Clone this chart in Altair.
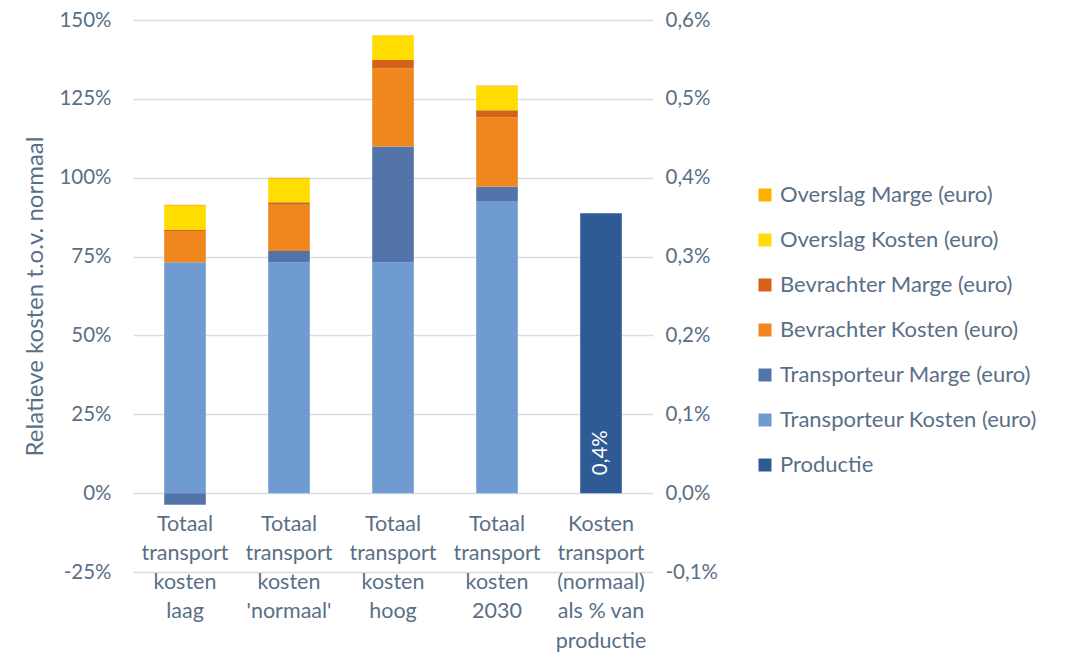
import altair as alt
import pandas as pd

categories = [
    "Totaal transport kosten laag",
    "Totaal transport kosten 'normaal'",
    "Totaal transport kosten hoog",
    "Totaal transport kosten 2030",
    "Kosten transport (normaal) als % van productie",
]
label_lines = [
    ["Totaal", "transport", "kosten", "laag"],
    ["Totaal", "transport", "kosten", "'normaal'"],
    ["Totaal", "transport", "kosten", "hoog"],
    ["Totaal", "transport", "kosten", "2030"],
    ["Kosten", "transport", "(normaal)", "als % van", "productie"],
]
stack_series = [
    "Transporteur Kosten (euro)",
    "Transporteur Marge (euro)",
    "Bevrachter Kosten (euro)",
    "Bevrachter Marge (euro)",
    "Overslag Kosten (euro)",
    "Overslag Marge (euro)",
]
# percentages relative to 'normaal' (first four categories)
transporteur_kosten = [73.2, 73.2, 73.2, 92.6]
transporteur_marge = [-3.7, 3.6, 36.7, 4.5]
bevrachter_kosten = [9.9, 14.6, 24.8, 22.1]
bevrachter_marge = [0.3, 0.8, 2.6, 2.2]
overslag_kosten = [7.7, 7.5, 7.7, 7.5]
overslag_marge = [0.3, 0.3, 0.2, 0.3]
# transport cost as % of production (right axis)
productie = [0.355]

legend_order = [
    "Overslag Marge (euro)",
    "Overslag Kosten (euro)",
    "Bevrachter Marge (euro)",
    "Bevrachter Kosten (euro)",
    "Transporteur Marge (euro)",
    "Transporteur Kosten (euro)",
    "Productie",
]
legend_colors = ["#FFB000", "#FFDD00", "#D56217", "#EF861E", "#5274A9", "#6F9BD1", "#2E5B95"]

left_ticks = [-0.25, 0, 0.25, 0.5, 0.75, 1.0, 1.25, 1.5]
right_ticks = [-0.001, 0, 0.001, 0.002, 0.003, 0.004, 0.005, 0.006]

TEXT = "#5A6F86"
FONT = "Lato"

rows = []
values = [transporteur_kosten, transporteur_marge, bevrachter_kosten,
          bevrachter_marge, overslag_kosten, overslag_marge]
for si, (s, vals) in enumerate(zip(stack_series, values)):
    for ci, v in enumerate(vals):
        rows.append({"cat": categories[ci], "series": s, "order": si, "value": v / 100})
df = pd.DataFrame(rows)

prod_df = pd.DataFrame({"cat": [categories[4]], "series": ["Productie"],
                        "value": [p / 100 for p in productie]})

# label expression for multi-line category labels
expr = "''"
for c, lines in reversed(list(zip(categories, label_lines))):
    arr = "[" + ",".join("'" + l.replace("'", "\\'") + "'" for l in lines) + "]"
    cval = c.replace("'", "\\'")
    expr = f"datum.value == '{cval}' ? {arr} : ({expr})"

xscale = alt.Scale(domain=categories, paddingInner=0.6, paddingOuter=0.3)
xaxis = alt.Axis(labelExpr=expr, labelAngle=0, domain=False, ticks=False, grid=False,
                 offset=-79, labelPadding=20, labelFontSize=21.5,
                 labelLineHeight=29.3, labelColor=TEXT, labelFont=FONT,
                 labelOverlap=False, labelBaseline="top", labelLimit=300, title=None)
color = alt.Color("series:N",
                  scale=alt.Scale(domain=legend_order, range=legend_colors),
                  legend=alt.Legend(title=None, orient="none", legendX=621, legendY=164,
                                    symbolType="square", symbolSize=169, symbolStrokeWidth=0,
                                    labelFontSize=22, labelColor=TEXT, labelFont=FONT,
                                    rowPadding=23, labelOffset=4, labelLimit=400))

left = alt.Chart(df).mark_bar().encode(
    x=alt.X("cat:N", scale=xscale, title=None, axis=xaxis),
    y=alt.Y("value:Q", stack="zero",
            scale=alt.Scale(domain=[-0.25, 1.5], nice=False, zero=False),
            axis=alt.Axis(values=left_ticks,
                          labelExpr="replace(format(datum.value, '.0%'), '\u2212', '-')",
                          grid=True, gridColor="#D9DDE3",
                          gridWidth=1.3, domain=False, ticks=False, labelPadding=22,
                          labelFontSize=20.5, labelColor=TEXT, labelFont=FONT,
                          title="Relatieve kosten t.o.v. normaal", titleFontSize=24,
                          titleColor=TEXT, titleFont=FONT, titleFontWeight="normal",
                          titlePadding=11)),
    color=color,
    order=alt.Order("order:Q"),
)

right_y = alt.Y("value:Q",
                scale=alt.Scale(domain=[-0.001, 0.006], nice=False, zero=False),
                axis=alt.Axis(orient="right", values=right_ticks,
                              labelExpr="replace(replace(format(datum.value, '.1%'), '.', ','), '\u2212', '-')",
                              grid=False, domain=False, ticks=False, labelPadding=12,
                              labelFontSize=20.5, labelColor=TEXT, labelFont=FONT, title=None))

prod_bar = alt.Chart(prod_df).mark_bar().encode(
    x=alt.X("cat:N", scale=xscale, title=None, axis=xaxis),
    y=right_y,
    color=color,
)
prod_text = alt.Chart(prod_df).transform_calculate(
    lbl="replace(format(datum.value, '.1%'), '.', ',')",
    zero="0",
).mark_text(angle=270, align="left", baseline="middle", dx=18, color="white",
            fontSize=20.5, font=FONT).encode(
    x=alt.X("cat:N", scale=xscale, title=None, axis=xaxis, bandPosition=0.5),
    y=alt.Y("zero:Q", scale=alt.Scale(domain=[-0.001, 0.006], nice=False, zero=False)),
    text="lbl:N",
)

right = alt.layer(prod_bar, prod_text)

chart = alt.layer(left, right).resolve_scale(y="independent").properties(
    width=520, height=552,
    padding={"left": 125, "top": 12, "right": 410, "bottom": 80},
    autosize=alt.AutoSizeParams(type="none"),
).configure(font=FONT).configure_view(stroke="transparent")

chart.save("out.html", embed_options={"renderer": "svg", "actions": False})
